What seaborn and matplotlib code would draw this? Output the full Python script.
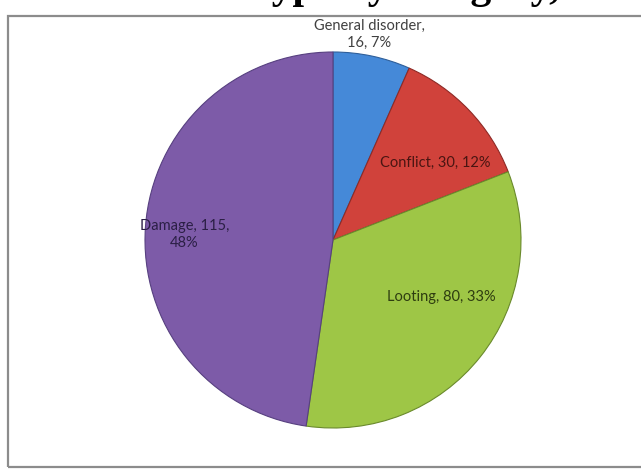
"""
Pie chart of incidents by category.
Recreated with seaborn + matplotlib.
"""

import numpy as np
import matplotlib
matplotlib.use("Agg")
import matplotlib.pyplot as plt
import seaborn as sns
from matplotlib.patches import Rectangle

# data
categories = ["General disorder", "Conflict", "Looting", "Damage"]
counts = [16, 30, 80, 115]
percent_labels = ["7%", "12%", "33%", "48%"]
title_text = "Incident type by category, 2011"

sns.set_theme(style="white")
plt.rcParams["font.family"] = ["Lato", "DejaVu Sans"]

colors = ["#4589d8", "#d0423b", "#9ec646", "#7d5ba8"]
edge_colors = ["#2f5f9a", "#8e2a26", "#6a8a2c", "#574080"]
text_colors = ["#404040", "#4a1512", "#2e3d10", "#2b1f45"]

W, H = 641, 470
fig = plt.figure(figsize=(W / 100, H / 100), dpi=100)
fig.patch.set_facecolor("white")

# chart box border
fig.patches.append(Rectangle((8 / W, 3 / H), 1.2, (H - 19) / H,
                             transform=fig.transFigure, fill=False,
                             edgecolor="#8c8c8c", linewidth=1.6))

# clipped title at the very top (only the descenders show, like the original)
fig.text(100 / W, 1 + 2 / H, title_text, ha="left", va="baseline",
         fontsize=30, fontweight="bold", family="Liberation Serif",
         color="black")

# pie axes: centre (333, 240), radius 188 px
cx, cy, r = 333, 240, 188
ax = fig.add_axes([(cx - r) / W, (H - cy - r) / H, 2 * r / W, 2 * r / H])

wedges, _ = ax.pie(counts, colors=colors, startangle=90, counterclock=False,
                   radius=1.0, wedgeprops=dict(linewidth=0.8))
for w, ec in zip(wedges, edge_colors):
    w.set_edgecolor(ec)

# pie() resets the limits, so set them afterwards
ax.set_xlim(-1, 1)
ax.set_ylim(-1, 1)
ax.set_aspect("equal")
ax.axis("off")

# label placement (radius, angle in degrees) chosen like excel "best fit"
label_pos = [(1.11, 80), (0.68, 37), (0.65, -28), (0.79, 178)]
label_text = [
    "General disorder,\n{}, {}".format(counts[0], percent_labels[0]),
    "{}, {}, {}".format(categories[1], counts[1], percent_labels[1]),
    "{}, {}, {}".format(categories[2], counts[2], percent_labels[2]),
    "{}, {},\n{}".format(categories[3], counts[3], percent_labels[3]),
]
for (rr, ang), txt, tc in zip(label_pos, label_text, text_colors):
    a = np.deg2rad(ang)
    ax.text(rr * np.cos(a), rr * np.sin(a), txt, ha="center", va="center",
            fontsize=10.5, color=tc, linespacing=1.25, clip_on=False)

fig.savefig("out.png", dpi=100, facecolor="white")
